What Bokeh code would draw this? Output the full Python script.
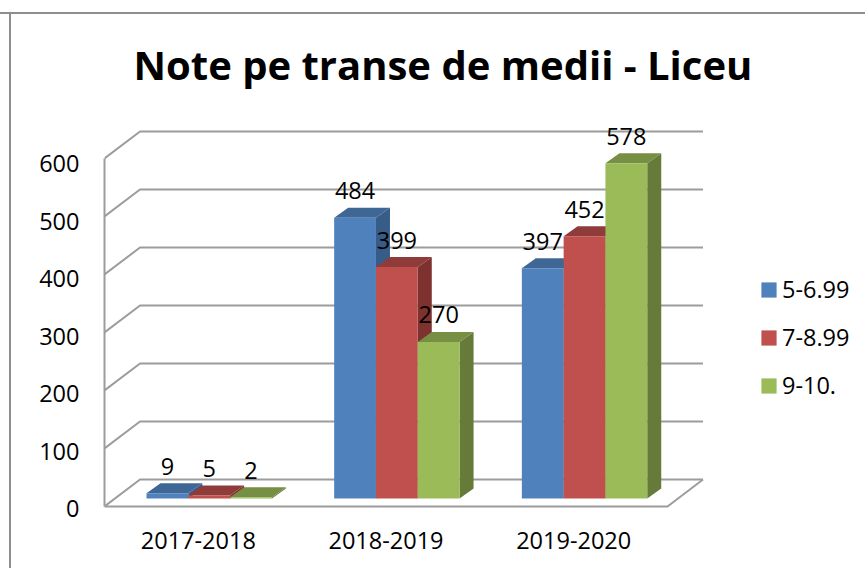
from bokeh.plotting import figure
from bokeh.models import (Range1d, FixedTicker, Legend, LegendItem, LinearAxis,
                          Title, ColumnDataSource)
from bokeh.core.properties import value
from bokeh.embed import file_html
from bokeh.resources import INLINE

# ---- data ----
categories = ["2017-2018", "2018-2019", "2019-2020"]
series_names = ["5-6.99", "7-8.99", "9-10."]
values_low = [9, 484, 397]
values_mid = [5, 399, 452]
values_high = [2, 270, 578]
y_ticks = [0, 100, 200, 300, 400, 500, 600]
title_text = "Note pe transe de medii - Liceu"

# ---- geometry (pixels) ----
W, H = 865, 568
FRAME_L, FRAME_T, FRAME_B = 104, 100, 48
BELOW_ZERO = 14  # px of frame below the value 0 line
PX_X = 187.67    # px per category
PX_Y = 0.58      # px per value unit
frame_w = W - FRAME_L
frame_h = H - FRAME_T - FRAME_B
x_end = frame_w / PX_X
y_start = -BELOW_ZERO / PX_Y
y_end = (frame_h - BELOW_ZERO) / PX_Y

def xp(px): return px / PX_X
def yp(px): return px / PX_Y

WALL_DX, WALL_DY = xp(35.5), yp(27)
BAR_DX, BAR_DY = xp(14), yp(10)
BAR_W = xp(41.8)
BAR_START = xp(42)
BASE = yp(8)

# the value labels have a slightly tighter scale than the walls, as in the picture
LABEL_PX_Y = 0.575
LABEL_ZERO_ABOVE_FRAME_BOTTOM = 12

TEXT = "#000000"
GRID = "#9c9c9c"
BORDER = "#8e8e8e"
FONT = "Open Sans"
FS = "23.5px"

# the chart's outer border (left and top edges in view) is painted behind the canvas
border_css = (f"linear-gradient({BORDER},{BORDER}) 0 12px / 100% 2px no-repeat, "
              f"linear-gradient({BORDER},{BORDER}) 9px 12px / 2px 100% no-repeat")

p = figure(width=W, height=H, output_backend="svg", toolbar_location=None,
           x_range=Range1d(0, x_end), y_range=Range1d(y_start, y_end),
           min_border_left=FRAME_L, min_border_right=0,
           min_border_top=FRAME_T, min_border_bottom=FRAME_B,
           background_fill_color=None, border_fill_color=None,
           outline_line_color=None, styles={"background": border_css})
p.grid.visible = False

p.add_layout(Title(text=title_text, text_font=FONT, text_font_style="bold",
                   text_font_size="40px", text_color=TEXT, align="left",
                   offset=29, standoff=18), "above")

# axes: the main value axis draws the line, a second one the labels
ya = p.yaxis[0]
ya.ticker = FixedTicker(ticks=[])
ya.bounds = (0, y_ticks[-1])
ya.axis_line_color = GRID
ya.axis_line_width = 2
ya.major_tick_line_color = None
ya.minor_tick_line_color = None

p.extra_y_ranges["labels"] = Range1d(
    -LABEL_ZERO_ABOVE_FRAME_BOTTOM / LABEL_PX_Y,
    (frame_h - LABEL_ZERO_ABOVE_FRAME_BOTTOM) / LABEL_PX_Y)
yl = LinearAxis(y_range_name="labels", ticker=FixedTicker(ticks=y_ticks))
yl.axis_line_color = None
yl.major_tick_line_color = None
yl.minor_tick_line_color = None
yl.major_label_standoff = 19
yl.major_label_text_font = FONT
yl.major_label_text_font_size = FS
yl.major_label_text_color = TEXT
p.add_layout(yl, "left")

xa = p.xaxis[0]
xa.ticker = FixedTicker(ticks=[0.5, 1.5, 2.5])
xa.major_label_overrides = {i + 0.5: c for i, c in enumerate(categories)}
xa.axis_line_color = None
xa.major_tick_line_color = None
xa.minor_tick_line_color = None
xa.major_label_standoff = 19 - BELOW_ZERO
xa.major_label_text_font = FONT
xa.major_label_text_font_size = FS
xa.major_label_text_color = TEXT

# floor, back wall & side wall gridlines
n = len(categories)
xs = [[0, WALL_DX, n + WALL_DX] for _ in y_ticks]
ys = [[v, v + WALL_DY, v + WALL_DY] for v in y_ticks]
p.multi_line(xs, ys, line_color=GRID, line_width=2)
p.line([0, n, n + WALL_DX], [0, 0, WALL_DY], line_color=GRID, line_width=2)

palette = [("#4F81BD", "#375C88", "#3F6795"),
           ("#C0504D", "#7D3230", "#8F3B39"),
           ("#9BBB59", "#667A3A", "#778F42")]

legend_items = []
for s, (vals, name) in enumerate(zip([values_low, values_mid, values_high], series_names)):
    front, side, top = palette[s]
    lefts = [i + BAR_START + s * BAR_W for i in range(n)]
    rights = [l + BAR_W for l in lefts]
    tops = [BASE + v for v in vals]
    side_x = [[r, r + BAR_DX, r + BAR_DX, r] for r in rights]
    side_y = [[BASE, BASE + BAR_DY, t + BAR_DY, t] for t in tops]
    top_x = [[l, l + BAR_DX, r + BAR_DX, r] for l, r in zip(lefts, rights)]
    top_y = [[t, t + BAR_DY, t + BAR_DY, t] for t in tops]
    p.patches(side_x, side_y, fill_color=side, line_color=None)
    p.patches(top_x, top_y, fill_color=top, line_color=None)
    r = p.quad(left=lefts, right=rights, bottom=[BASE] * n, top=tops,
               fill_color=front, line_color=None)
    legend_items.append(LegendItem(label=name, renderers=[r]))

# data labels go on top of every bar
for s, vals in enumerate([values_low, values_mid, values_high]):
    src = ColumnDataSource(dict(
        x=[i + BAR_START + (s + 0.5) * BAR_W for i in range(n)],
        y=[BASE + v for v in vals],
        t=[str(v) for v in vals]))
    p.text("x", "y", text="t", source=src, text_align="center",
           text_baseline="alphabetic", y_offset=-27, text_color=TEXT,
           text_font=value(FONT), text_font_size=FS)

legend = Legend(items=legend_items, location=(655, 105 + BELOW_ZERO), orientation="vertical",
                border_line_color=None, background_fill_alpha=0,
                glyph_width=19, glyph_height=19, label_standoff=4,
                spacing=16, padding=0, margin=0, label_height=30,
                label_text_font=FONT, label_text_font_size="23.5px",
                label_text_color=TEXT, label_text_baseline="middle")
p.add_layout(legend)

open("out.html", "w").write(file_html(p, INLINE))
